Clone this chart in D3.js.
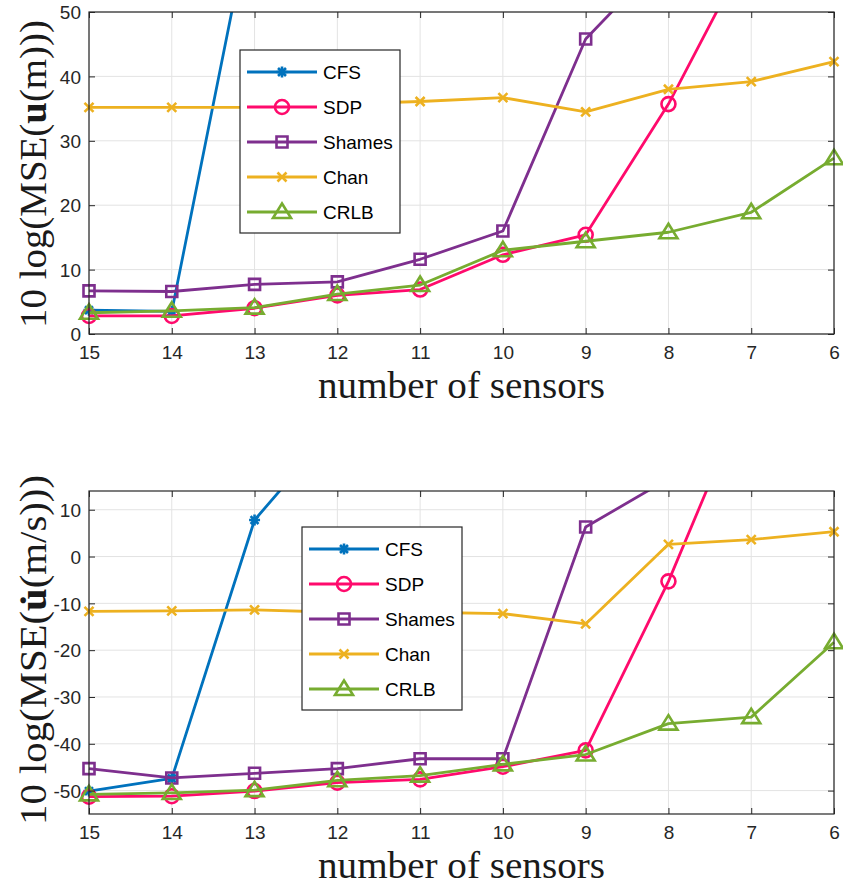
<!DOCTYPE html>
<html>
<head>
<meta charset="utf-8">
<script src="https://cdn.jsdelivr.net/npm/d3@7"></script>
<style>
  body { margin: 0; background: #fff; }
  svg { display: block; }
  .tick text { font-family: "Liberation Sans", Arial, sans-serif; font-size: 19px; fill: #262626; }
</style>
</head>
<body>
<svg id="chart" width="843" height="886"></svg>
<script>
const svg = d3.select('#chart')

// x categories (number of sensors, reversed axis)
const sensors = [15, 14, 13, 12, 11, 10, 9, 8, 7, 6];
const names = ["CFS", "SDP", "Shames", "Chan", "CRLB"];
const colors = ["#0072BD", "#FF0A6C", "#7E2F8E", "#EDB120", "#77AC30"];
const shapes = ["asterisk", "circle", "square", "x", "triangle"];

// top panel: position MSE (dB)
const cfsPos = [3.7, 3.5, 67.7, 80, 90, 95, 100, 105, 110, 115];
const sdpPos = [2.8, 2.8, 4.0, 6.0, 6.9, 12.3, 15.4, 35.7, 60.3, 75];
const shamesPos = [6.7, 6.6, 7.7, 8.1, 11.6, 16.0, 45.8, 59.2, 70, 80];
const chanPos = [35.2, 35.2, 35.2, 35.7, 36.1, 36.7, 34.5, 38.0, 39.2, 42.3];
const crlbPos = [3.3, 3.6, 4.1, 6.2, 7.6, 13.0, 14.4, 15.8, 18.9, 27.3];
const yTicksPos = [0, 10, 20, 30, 40, 50];

// bottom panel: velocity MSE (dB)
const cfsVel = [-50.1, -47.4, 7.8, 28.3, 40, 50, 55, 60, 65, 70];
const sdpVel = [-51.3, -51.2, -50.1, -48.3, -47.6, -44.9, -41.4, -5.3, 36.8, 50];
const shamesVel = [-45.3, -47.3, -46.3, -45.3, -43.2, -43.2, 6.3, 16.6, 25, 30];
const chanVel = [-11.7, -11.6, -11.4, -11.9, -11.9, -12.2, -14.4, 2.6, 3.6, 5.3];
const crlbVel = [-50.8, -50.5, -49.9, -47.8, -46.8, -44.4, -42.3, -35.7, -34.3, -18.3];
const yTicksVel = [-50, -40, -30, -20, -10, 0, 10];

const lw = 2.8;

function markerPath(shape) {
    if (shape === "asterisk") {
        const r = 5.5, d = r * 0.72;
        return `M${-r},0L${r},0M0,${-r}L0,${r}M${-d},${-d}L${d},${d}M${-d},${d}L${d},${-d}`;
    }
    if (shape === "circle") {
        const r = 7;
        return `M${r},0A${r},${r} 0 1,1 ${-r},0A${r},${r} 0 1,1 ${r},0Z`;
    }
    if (shape === "square") {
        const h = 5.5;
        return `M${-h},${-h}L${h},${-h}L${h},${h}L${-h},${h}Z`;
    }
    if (shape === "x") {
        const r = 4.5;
        return `M${-r},${-r}L${r},${r}M${-r},${r}L${r},${-r}`;
    }
    // triangle
    return "M0,-8.5L9,6L-9,6Z";
}

function drawPanel(cfg, idx) {
    const left = 89, right = 834;
    const x = d3.scalePoint().domain(sensors).range([left, right]);
    const y = d3.scaleLinear().domain(cfg.domain).range([cfg.bottom, cfg.top]);
    const g = svg.append("g");

    // grid
    g.append("g").selectAll("line").data(sensors).enter().append("line")
        .attr("x1", d => x(d)).attr("x2", d => x(d))
        .attr("y1", cfg.top).attr("y2", cfg.bottom)
        .attr("stroke", "#e3e3e3").attr("stroke-width", 1);
    g.append("g").selectAll("line").data(cfg.yTicks).enter().append("line")
        .attr("x1", left).attr("x2", right)
        .attr("y1", d => y(d)).attr("y2", d => y(d))
        .attr("stroke", "#e3e3e3").attr("stroke-width", 1);

    // clip to the axes (markers may hang over the bottom/side edges)
    const clipId = "clip-" + idx;
    svg.append("defs").append("clipPath").attr("id", clipId)
        .append("rect").attr("x", left - 14).attr("y", cfg.top)
        .attr("width", right - left + 28).attr("height", cfg.bottom - cfg.top + 14);

    const line = d3.line().x((d, i) => x(sensors[i])).y(d => y(d));
    const plot = g.append("g").attr("clip-path", `url(#${clipId})`);
    cfg.series.forEach(function (vals, k) {
        plot.append("path")
            .attr("d", line(vals))
            .attr("fill", "none")
            .attr("stroke", colors[k])
            .attr("stroke-width", lw)
            .attr("stroke-linejoin", "round");
        plot.selectAll(null).data(vals).enter().append("path")
            .attr("transform", (d, i) => `translate(${x(sensors[i])},${y(d)})`)
            .attr("d", markerPath(shapes[k]))
            .attr("fill", "none")
            .attr("stroke", colors[k])
            .attr("stroke-width", 2.6);
    });

    // axes box with inward ticks
    g.append("rect")
        .attr("x", left).attr("y", cfg.top)
        .attr("width", right - left).attr("height", cfg.bottom - cfg.top)
        .attr("fill", "none").attr("stroke", "#262626").attr("stroke-width", 1.2);

    const xAxisB = d3.axisBottom(x).tickSizeInner(-6).tickSizeOuter(0).tickPadding(12);
    const xa = g.append("g").attr("transform", `translate(0,${cfg.bottom})`).call(xAxisB);
    const xAxisT = d3.axisTop(x).tickSizeInner(-6).tickSizeOuter(0).tickFormat("");
    const xt = g.append("g").attr("transform", `translate(0,${cfg.top})`).call(xAxisT);
    const yAxisL = d3.axisLeft(y).tickValues(cfg.yTicks).tickFormat(d => String(d))
        .tickSizeInner(-6).tickSizeOuter(0).tickPadding(8);
    const ya = g.append("g").attr("transform", `translate(${left},0)`).call(yAxisL);
    const yAxisR = d3.axisRight(y).tickValues(cfg.yTicks).tickSizeInner(-6).tickSizeOuter(0).tickFormat("");
    const yr = g.append("g").attr("transform", `translate(${right},0)`).call(yAxisR);
    [xa, xt, ya, yr].forEach(a => {
        a.select(".domain").remove();
        a.selectAll(".tick line").attr("stroke", "#262626");
    });
    ya.selectAll(".tick text").attr("dy", "0.35em");

    // x label
    g.append("text")
        .attr("x", (left + right) / 2).attr("y", cfg.bottom + 64)
        .attr("text-anchor", "middle")
        .attr("font-family", "'Liberation Serif', 'Times New Roman', serif")
        .attr("font-size", 37)
        .attr("textLength", 287).attr("lengthAdjust", "spacingAndGlyphs")
        .attr("fill", "#1a1a1a")
        .text("number of sensors");

    // y label
    const yl = g.append("text")
        .attr("transform", `translate(${cfg.ylabelX},${cfg.ylabelY}) rotate(-90)`)
        .attr("text-anchor", "middle")
        .attr("font-family", "'Liberation Serif', 'Times New Roman', serif")
        .attr("font-size", 37)
        .attr("textLength", cfg.ylabelLen).attr("lengthAdjust", "spacingAndGlyphs")
        .attr("fill", "#1a1a1a");
    yl.append("tspan").text("10 log(MSE(");
    yl.append("tspan").attr("font-weight", "bold").text(cfg.ylabelVar);
    yl.append("tspan").text(cfg.ylabelUnit);

    // legend
    const lg = g.append("g").attr("transform", `translate(${cfg.legend[0]},${cfg.legend[1]})`);
    lg.append("rect").attr("width", 160).attr("height", 183)
        .attr("fill", "#fff").attr("stroke", "#262626").attr("stroke-width", 1.2);
    names.forEach(function (n, k) {
        const ly = 22 + k * 35;
        lg.append("line").attr("x1", 7).attr("x2", 77).attr("y1", ly).attr("y2", ly)
            .attr("stroke", colors[k]).attr("stroke-width", lw);
        lg.append("path").attr("transform", `translate(42,${ly})`)
            .attr("d", markerPath(shapes[k]))
            .attr("fill", "none").attr("stroke", colors[k]).attr("stroke-width", 2.6);
        lg.append("text").attr("x", 83).attr("y", ly).attr("dy", "0.36em")
            .attr("font-family", "'Liberation Sans', Arial, sans-serif")
            .attr("font-size", 19).attr("fill", "#000")
            .text(n);
    });
}

drawPanel({
    top: 12, bottom: 334, domain: [0, 50], yTicks: yTicksPos,
    series: [cfsPos, sdpPos, shamesPos, chanPos, crlbPos],
    legend: [240, 50],
    ylabelX: 46, ylabelY: 174, ylabelLen: 308, ylabelVar: "u", ylabelUnit: "(m)))"
}, 0);

drawPanel({
    top: 491, bottom: 814, domain: [-55, 14], yTicks: yTicksVel,
    series: [cfsVel, sdpVel, shamesVel, chanVel, crlbVel],
    legend: [302, 527],
    ylabelX: 46, ylabelY: 650, ylabelLen: 350, ylabelVar: "u\u0307", ylabelUnit: "(m/s)))"
}, 1);
</script>
</body>
</html>
